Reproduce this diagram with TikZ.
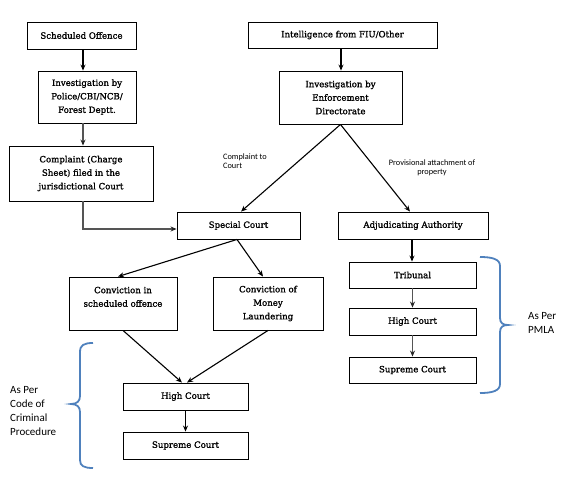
\documentclass[tikz,border=0pt]{standalone}
\usepackage{fontspec}
\setmainfont{DejaVu Serif}[FakeBold=1.3]
\newfontfamily\lblfont{Carlito}
\usetikzlibrary{arrows.meta}
\definecolor{bracecol}{HTML}{4F81BD}
\definecolor{graycon}{HTML}{555555}
\tikzset{
  box/.style={draw=black, line width=0.9pt, inner sep=0pt, align=center,
    font=\fontsize{8.6}{13.5}\selectfont, fill=white},
  con/.style={line width=1.1pt, -{Stealth[length=6pt,width=5pt]}},
  graycon/.style={line width=1.5pt, draw=graycon, -{Stealth[length=6pt,width=5pt,color=black!85]}},
  lbl/.style={font=\lblfont\fontsize{8.3}{9}\selectfont, inner sep=0pt},
  sidelbl/.style={font=\lblfont\fontsize{11}{14}\selectfont, inner sep=0pt, align=left, anchor=west},
  bracepath/.style={draw=bracecol, line width=1.8pt}
}
\begin{document}
\begin{tikzpicture}[x=1pt,y=-1pt]
\useasboundingbox (0,0) rectangle (563,477);
\fill[white] (0,0) rectangle (563,477);

% boxes
\node[box, minimum width=109, minimum height=27] (so) at (81.5,35.5) {Scheduled Offence};
\node[box, minimum width=98, minimum height=52] (ip) at (87,97) {Investigation by\\Police/CBI/NCB/\\Forest Deptt.};
\node[box, minimum width=144, minimum height=55] (cp) at (81,173.5) {Complaint (Charge\\Sheet) filed in the\\jurisdictional Court};
\node[box, minimum width=123, minimum height=27] (sc) at (238.5,225.5) {Special Court};
\node[box, minimum width=189, minimum height=26] (intel) at (342.5,35) {Intelligence from FIU/Other};
\node[box, minimum width=123, minimum height=53] (ied) at (340.5,97.5) {Investigation by\\Enforcement\\Directorate};
\node[box, minimum width=150, minimum height=27] (aa) at (413,225.5) {Adjudicating Authority};
\node[box, minimum width=108, minimum height=53] (cso) at (123,303.5) {Conviction in\\scheduled offence\\\mbox{}};
\node[box, minimum width=110, minimum height=53] (cml) at (268,303.5) {Conviction of\\Money\\Laundering};
\node[box, minimum width=125, minimum height=27] (hc1) at (185.5,396.5) {High Court};
\node[box, minimum width=125, minimum height=27] (sup1) at (185.5,445.5) {Supreme Court};
\node[box, minimum width=127, minimum height=26] (tri) at (412.5,275) {Tribunal};
\node[box, minimum width=127, minimum height=27] (hc2) at (412.5,321.5) {High Court};
\node[box, minimum width=127, minimum height=26] (sup2) at (412.5,370) {Supreme Court};

% connectors
\draw[con] ([xshift=1.5]so.south) -- ([xshift=1.5]so.south |- ip.north);
\draw[graycon] ([xshift=-4]ip.south) -- ([xshift=-4]ip.south |- cp.north);
\draw[graycon] ([xshift=2]cp.south) |- ([yshift=-3.5]sc.west);
\draw[con] ([xshift=-1.5]intel.south) -- ([xshift=-1.5]intel.south |- ied.north);
\draw[con] (ied.south) -- ([xshift=2.5]sc.north);
\draw[con] (ied.south) -- ([xshift=-3]aa.north);
\draw[con] ([xshift=-1.5]sc.south) -- ([xshift=-5]cso.north);
\draw[con] ([xshift=-1.5]sc.south) -- ([xshift=-5]cml.north);
\draw[con] (cso.south) -- ([xshift=-3.5]hc1.north);
\draw[con] (cml.south) -- ([xshift=1.5]hc1.north);
\draw[con] (hc1.south) -- (sup1.north);
\draw[con] ([xshift=-1]aa.south) -- ([xshift=-1]aa.south |- tri.north);
\draw[graycon] (tri.south) -- (hc2.north);
\draw[graycon] (hc2.south) -- (sup2.north);

% connector labels
\node[lbl, align=left, anchor=west] (lc) at (223,161) {Complaint to\\Court};
\node[lbl, align=center] (lp) at (432,168) {Provisional attachment of\\property};

% braces
\draw[bracepath] (93,343) .. controls (84,343) and (80,345) .. (80,352) -- (80,396)
  .. controls (80,401) and (77,404) .. (71,404) .. controls (77,404) and (80,407) .. (80,412)
  -- (80,460) .. controls (80,466) and (84,468) .. (93,468);
\draw[bracepath] (480,257) .. controls (492,257) and (500,259) .. (500,266) -- (500,318)
  .. controls (500,323) and (503,325) .. (508,325) .. controls (503,325) and (500,327) .. (500,332)
  -- (500,384) .. controls (500,391) and (492,393) .. (480,393);

% side labels
\node[sidelbl] (l1) at (10,411) {As Per\\Code of\\Criminal\\Procedure};
\node[sidelbl] (l2) at (528,323) {As Per\\PMLA};
\end{tikzpicture}
\end{document}
